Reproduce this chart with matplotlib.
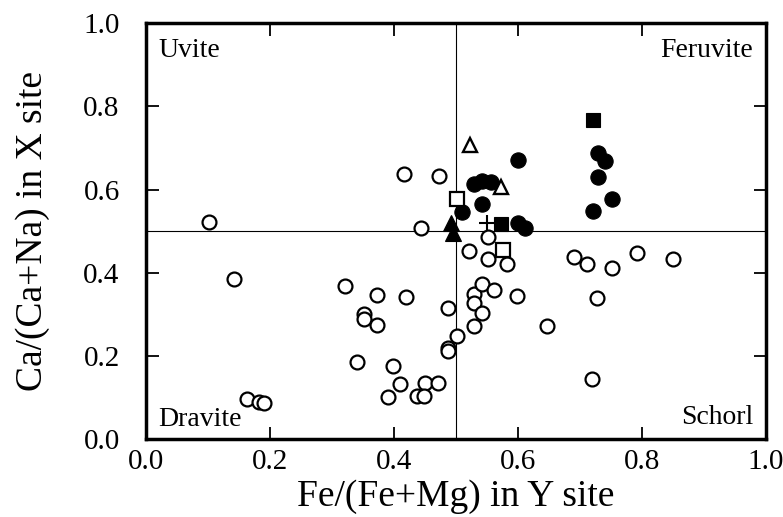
import matplotlib
matplotlib.use("Agg")
import matplotlib.pyplot as plt

plt.rcParams['font.family'] = ['Liberation Serif', 'DejaVu Serif']

# open circles
oc_x = [0.102, 0.142, 0.163, 0.182, 0.191, 0.321, 0.372, 0.351, 0.351, 0.372,
        0.341, 0.399, 0.409, 0.390, 0.420, 0.416, 0.472, 0.443, 0.450, 0.471,
        0.437, 0.448, 0.488, 0.488, 0.488, 0.502, 0.521, 0.529, 0.529, 0.529,
        0.542, 0.542, 0.561, 0.551, 0.551, 0.583, 0.599, 0.647, 0.690, 0.712,
        0.752, 0.792, 0.851, 0.728, 0.720]
oc_y = [0.522, 0.385, 0.097, 0.090, 0.088, 0.369, 0.346, 0.300, 0.290, 0.274,
        0.186, 0.176, 0.133, 0.102, 0.343, 0.637, 0.633, 0.508, 0.135, 0.136,
        0.103, 0.104, 0.316, 0.219, 0.211, 0.249, 0.452, 0.271, 0.348, 0.328,
        0.372, 0.304, 0.358, 0.486, 0.432, 0.420, 0.345, 0.271, 0.439, 0.422,
        0.412, 0.447, 0.432, 0.340, 0.145]

# filled circles
fc_x = [0.601, 0.529, 0.542, 0.556, 0.542, 0.510, 0.601, 0.612,
        0.730, 0.740, 0.730, 0.752, 0.721]
fc_y = [0.671, 0.613, 0.621, 0.617, 0.565, 0.547, 0.520, 0.508,
        0.687, 0.669, 0.629, 0.577, 0.548]

fs_x = [0.572, 0.721]   # filled squares
fs_y = [0.516, 0.768]
os_x = [0.502, 0.576]   # open squares
os_y = [0.577, 0.454]
ft_x = [0.492, 0.495]   # filled triangles
ft_y = [0.520, 0.496]
ot_x = [0.522, 0.573]   # open triangles
ot_y = [0.707, 0.605]
pl_x = [0.550]          # cross
pl_y = [0.520]

fig = plt.figure(figsize=(7.83, 5.17), dpi=100)
ax = fig.add_axes([0.1865, 0.1503, 0.7915, 0.8052])

ax.axvline(0.5, color='black', lw=0.8, zorder=1)
ax.axhline(0.5, color='black', lw=0.8, zorder=1)

ax.plot(oc_x, oc_y, 'o', ms=10, mfc='white', mec='black', mew=1.6, ls='none', zorder=3)
ax.plot(fc_x, fc_y, 'o', ms=11, mfc='black', mec='black', mew=0.8, ls='none', zorder=3)
ax.plot(fs_x, fs_y, 's', ms=10.5, mfc='black', mec='black', mew=0.8, ls='none', zorder=3)
ax.plot(os_x, os_y, 's', ms=9.5, mfc='white', mec='black', mew=1.6, ls='none', zorder=3)
ax.plot(ft_x, ft_y, '^', ms=11, mfc='black', mec='black', mew=0.8, ls='none', zorder=3)
ax.plot(ot_x, ot_y, '^', ms=10.5, mfc='white', mec='black', mew=1.7, ls='none', zorder=3)
ax.plot(pl_x, pl_y, '+', ms=11, mec='black', mew=1.5, ls='none', zorder=3)

ax.set_xlim(0, 1)
ax.set_ylim(0, 1)
ax.set_xticks([0.0, 0.2, 0.4, 0.6, 0.8, 1.0])
ax.set_yticks([0.0, 0.2, 0.4, 0.6, 0.8, 1.0])
ax.xaxis.set_major_formatter(matplotlib.ticker.FormatStrFormatter('%.1f'))
ax.yaxis.set_major_formatter(matplotlib.ticker.FormatStrFormatter('%.1f'))
ax.tick_params(direction='in', length=9, width=1.3, top=True, right=True, labelsize=21)
ax.tick_params(axis='x', pad=7)
ax.tick_params(axis='y', pad=19)
for s in ax.spines.values():
    s.set_linewidth(2.5)

ax.set_xlabel('Fe/(Fe+Mg) in Y site', fontsize=27, labelpad=3)
ax.set_ylabel('Ca/(Ca+Na) in X site', fontsize=27, labelpad=24)

ax.text(0.02, 0.933, 'Uvite', fontsize=20, ha='left', va='center', transform=ax.transAxes)
ax.text(0.98, 0.933, 'Feruvite', fontsize=20, ha='right', va='center', transform=ax.transAxes)
ax.text(0.02, 0.047, 'Dravite', fontsize=20, ha='left', va='center', transform=ax.transAxes)
ax.text(0.98, 0.052, 'Schorl', fontsize=20, ha='right', va='center', transform=ax.transAxes)

fig.savefig('out.png', dpi=100)
